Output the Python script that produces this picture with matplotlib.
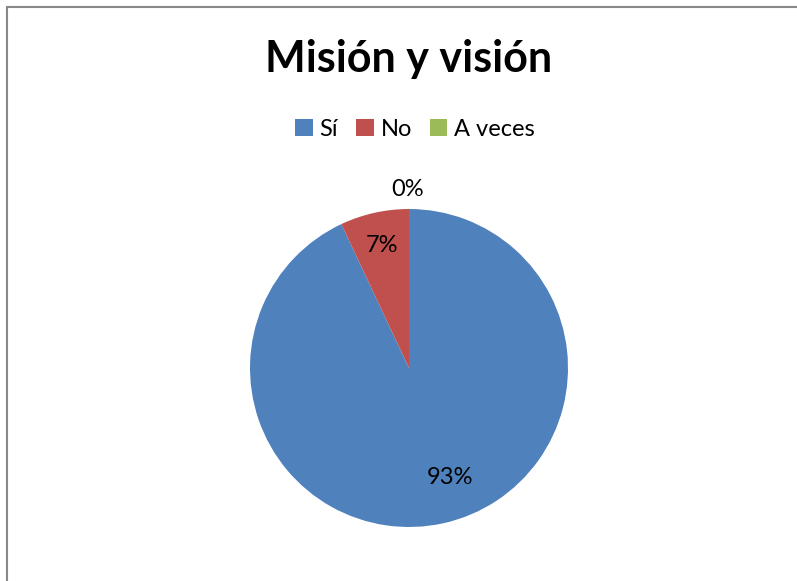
import matplotlib.pyplot as plt
from matplotlib.patches import Rectangle, Patch

plt.rcParams['font.family'] = ['Lato', 'DejaVu Sans']

# Data
categories = ['Sí', 'No', 'A veces']
values = [93, 7, 0]
colors = ['#4F81BD', '#C0504D', '#9BBB59']

W, H = 797, 581
fig = plt.figure(figsize=(W / 100, H / 100), dpi=100)

# outer chart border (runs off the right/bottom edge)
fig.patches.append(Rectangle((7 / W, -0.05), 1.0, 1 - 7 / H + 0.05,
                             transform=fig.transFigure, fill=False,
                             edgecolor='#888888', linewidth=1.5))

# pie axes: centre (409, 368) px, radius 159 px
cx, cy, r = 409, 368, 159
ax = fig.add_axes([(cx - r) / W, (H - cy - r) / H, 2 * r / W, 2 * r / H])
wedges, texts, autotexts = ax.pie(values, colors=colors, startangle=90,
                                  counterclock=False, autopct='%d%%',
                                  pctdistance=0.79,
                                  textprops={'fontsize': 17, 'color': 'black'})
ax.set_xlim(-1, 1)
ax.set_ylim(-1, 1)
ax.set_aspect('equal')
for t in autotexts:
    t.set_clip_on(False)
# Excel-style placement for the big slice and the empty one
autotexts[0].set_position((0.26, -0.69))
autotexts[2].set_position((-0.01, 1.12))

fig.text(cx / W, 1 - 59 / H, 'Misión y visión', ha='center', va='center',
         fontsize=31, fontweight='bold')

handles = [Patch(facecolor=c) for c in colors]
fig.legend(handles, categories, loc='center', bbox_to_anchor=(415 / W, 1 - 129 / H),
           ncol=3, frameon=False, fontsize=17, handlelength=0.75, handleheight=0.75,
           handletextpad=0.3, columnspacing=0.75)

fig.savefig('out.png', dpi=100)
